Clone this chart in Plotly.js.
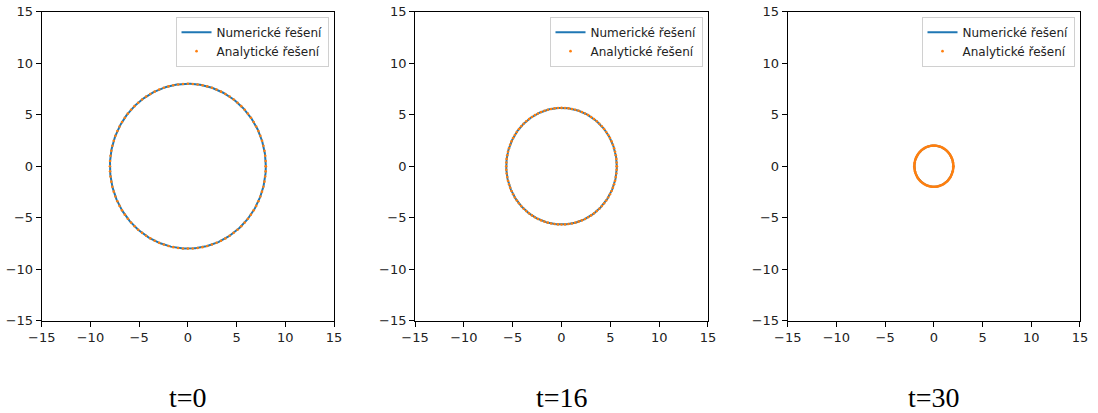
<!DOCTYPE html>
<html>
<head>
<meta charset="utf-8">
<script src="https://cdn.plot.ly/plotly-3.0.1.min.js"></script>
<style>
  html, body { margin: 0; padding: 0; background: #fff; }
  #chart { width: 1098px; height: 413px; }
</style>
</head>
<body>
<div id="chart"></div>
<script>
// Front radius at each snapshot time
const times = [0, 16, 30];
const panelTitles = ['t=0', 't=16', 't=30'];
const radii = [8, 5.66, 2];
const seriesNames = ['Numerické řešení', 'Analytické řešení'];
const tickVals = [-15, -10, -5, 0, 5, 10, 15];

const numericCount = 400;   // samples along the numeric contour
const analyticCount = 100;  // sample points of the analytic solution

function ring(r, n) {
  const x = [], y = [];
  for (let i = 0; i <= n; i++) {
    const a = 2 * Math.PI * i / n;
    x.push(r * Math.cos(a));
    y.push(r * Math.sin(a));
  }
  return { x, y };
}

const xDomains = [[0.038, 0.3042], [0.378, 0.6448], [0.7174, 0.9836]];
const yDomain = [0.2235, 0.9717];

const traces = [];
const layout = {
  width: 1098, height: 413,
  margin: { l: 0, r: 0, t: 0, b: 0 },
  paper_bgcolor: '#fff', plot_bgcolor: '#fff',
  font: { family: 'DejaVu Sans, sans-serif', size: 13, color: '#222' },
  annotations: []
};

radii.forEach((r, k) => {
  const sfx = k === 0 ? '' : String(k + 1);
  const num = ring(r, numericCount);
  const ana = ring(r, analyticCount);
  const legendId = 'legend' + sfx;
  traces.push({
    type: 'scatter', mode: 'lines', x: num.x, y: num.y,
    name: seriesNames[0], xaxis: 'x' + sfx, yaxis: 'y' + sfx,
    line: { color: '#1f77b4', width: 2 }, legend: legendId, hoverinfo: 'skip'
  });
  traces.push({
    type: 'scatter', mode: 'markers', x: ana.x, y: ana.y,
    name: seriesNames[1], xaxis: 'x' + sfx, yaxis: 'y' + sfx,
    marker: { color: '#ff7f0e', size: 2.6 }, legend: legendId, hoverinfo: 'skip'
  });

  const axisCommon = {
    range: [-15, 15], tickvals: tickVals, ticks: 'outside', ticklen: 5,
    tickcolor: '#000', tickwidth: 1, showgrid: false, zeroline: false,
    showline: true, mirror: true, linecolor: '#000', linewidth: 1,
    tickfont: { family: 'DejaVu Sans, sans-serif', size: 13, color: '#222' }
  };
  layout['xaxis' + sfx] = Object.assign({}, axisCommon, {
    domain: xDomains[k], anchor: 'y' + sfx
  });
  layout['yaxis' + sfx] = Object.assign({}, axisCommon, {
    domain: yDomain, anchor: 'x' + sfx
  });
  layout[legendId] = {
    x: xDomains[k][1] - 0.005, y: yDomain[1] - 0.012,
    xanchor: 'right', yanchor: 'top',
    bgcolor: 'rgba(255,255,255,0.85)', bordercolor: '#d0d0d0', borderwidth: 1,
    font: { family: 'DejaVu Sans, sans-serif', size: 12, color: '#222' },
    tracegroupgap: 0, itemwidth: 30
  };
  layout.annotations.push({
    text: panelTitles[k], xref: 'paper', yref: 'paper',
    x: (xDomains[k][0] + xDomains[k][1]) / 2, y: 1 - 397 / 413,
    xanchor: 'center', yanchor: 'middle', showarrow: false,
    font: { family: 'Liberation Serif, DejaVu Serif, serif', size: 28, color: '#000' }
  });
});

Plotly.newPlot('chart', traces, layout, { displayModeBar: false, staticPlot: true });
</script>
</body>
</html>
